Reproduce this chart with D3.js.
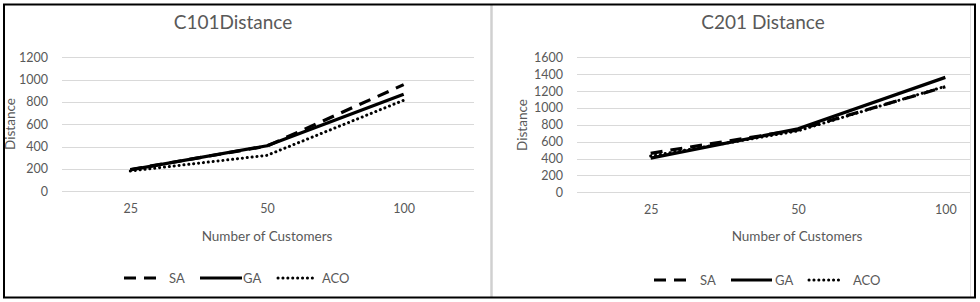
<!DOCTYPE html>
<html><head><meta charset="utf-8">
<script src="https://cdn.jsdelivr.net/npm/d3@7"></script>
<style>
html,body{margin:0;padding:0;background:#fff;}
svg{display:block;}
text{font-family:Lato,"Open Sans",sans-serif;fill:#595959;}
</style></head><body>
<svg id="c" width="980" height="302"></svg>
<script>
const categories = ["25", "50", "100"];
const seriesNames = ["SA", "GA", "ACO"];
const c101SA = [195, 405, 955];
const c101GA = [192, 408, 870];
const c101ACO = [182, 322, 815];
const c101Ticks = [0, 200, 400, 600, 800, 1000, 1200];
const c201SA = [462, 740, 1250];
const c201GA = [405, 752, 1362];
const c201ACO = [430, 728, 1256];
const c201Ticks = [0, 200, 400, 600, 800, 1000, 1200, 1400, 1600];

const svg = d3.select("#c");
const styles = {
  SA: {dash: "12,8", cap: "butt", w: 3.2},
  GA: {dash: null, cap: "butt", w: 3.2},
  ACO: {dash: "0.1,4.8", cap: "round", w: 3.0}
};

function drawPanel(cfg) {
  const clipId = "clip" + cfg.id;
  svg.append("clipPath").attr("id", clipId).append("rect")
    .attr("x", cfg.clip[0]).attr("y", 0).attr("width", cfg.clip[1] - cfg.clip[0]).attr("height", 302);
  const g = svg.append("g").attr("clip-path", `url(#${clipId})`);
  const x = d3.scalePoint().domain(categories).range(cfg.xr).padding(0.5);
  const y = d3.scaleLinear().domain([0, d3.max(cfg.ticks)]).range(cfg.yr);

  // gridlines
  g.append("g").selectAll("line").data(cfg.ticks).join("line")
    .attr("x1", cfg.gridX[0]).attr("x2", cfg.gridX[1])
    .attr("y1", d => Math.round(y(d)) + 0.5).attr("y2", d => Math.round(y(d)) + 0.5)
    .attr("stroke", "#d9d9d9").attr("stroke-width", 1);

  // y axis labels
  const ya = d3.axisLeft(y).tickValues(cfg.ticks).tickFormat(d3.format("d")).tickSize(0).tickPadding(0);
  const yg = g.append("g").attr("transform", `translate(${cfg.yLabelX},0)`).call(ya);
  yg.select(".domain").remove();
  yg.selectAll("text").style("font-family", "Lato").style("font-size", "12.5px").attr("fill", "#595959");

  // x axis labels
  const xa = d3.axisBottom(x).tickSize(0).tickPadding(0);
  const xg = g.append("g").attr("transform", `translate(0,${cfg.xLabelY})`).call(xa);
  xg.select(".domain").remove();
  xg.selectAll("text").style("font-family", "Lato").style("font-size", "12.5px").attr("fill", "#595959");

  // lines
  const line = d3.line().x((d, i) => x(categories[i])).y(d => y(d));
  cfg.series.forEach((vals, si) => {
    const st = styles[seriesNames[si]];
    g.append("path").datum(vals).attr("d", line)
      .attr("fill", "none").attr("stroke", "#000").attr("stroke-width", st.w)
      .attr("stroke-dasharray", st.dash).attr("stroke-linecap", st.cap).attr("stroke-linejoin", "round");
  });

  // titles
  g.append("text").attr("x", cfg.titleX).attr("y", 29).attr("text-anchor", "middle")
    .style("font-size", "19px").text(cfg.title);
  g.append("text").attr("x", cfg.xTitleX).attr("y", 241).attr("text-anchor", "middle")
    .style("font-size", "13.5px").text("Number of Customers");
  g.append("text").attr("transform", `translate(${cfg.yTitleX},${cfg.yTitleY}) rotate(-90)`)
    .attr("text-anchor", "middle").style("font-size", "13.5px").text("Distance");

  // legend
  const lg = g.append("g");
  cfg.legend.forEach((l, i) => {
    const st = styles[seriesNames[i]];
    lg.append("line").attr("x1", l[0]).attr("x2", l[1]).attr("y1", cfg.legY).attr("y2", cfg.legY)
      .attr("stroke", "#000").attr("stroke-width", st.w).attr("stroke-dasharray", st.dash)
      .attr("stroke-linecap", st.cap);
    lg.append("text").attr("x", l[2]).attr("y", cfg.legY + 4.5).style("font-size", "13px").text(seriesNames[i]);
  });
}

drawPanel({
  id: 1, clip: [3, 490], title: "C101Distance",
  xr: [62, 472], yr: [191.3, 57.3], ticks: c101Ticks, gridX: [62, 474],
  yLabelX: 48, xLabelY: 204, titleX: 233, xTitleX: 267, yTitleX: 15, yTitleY: 124,
  series: [c101SA, c101GA, c101ACO],
  legend: [[124, 163, 169], [200, 242, 243], [278, 316, 322]], legY: 278
});
drawPanel({
  id: 2, clip: [492, 971], title: "C201 Distance",
  xr: [577, 1019], yr: [192.3, 57.3], ticks: c201Ticks, gridX: [577, 971],
  yLabelX: 563, xLabelY: 205, titleX: 763, xTitleX: 797, yTitleX: 527, yTitleY: 125,
  series: [c201SA, c201GA, c201ACO],
  legend: [[654, 693, 700], [731, 772, 775], [809, 840, 853]], legY: 280
});

// frames
svg.append("line").attr("x1", 491.5).attr("x2", 491.5).attr("y1", 5).attr("y2", 297)
  .attr("stroke", "#d0d0d0").attr("stroke-width", 2.5);
svg.append("line").attr("x1", 970.5).attr("x2", 970.5).attr("y1", 5).attr("y2", 297)
  .attr("stroke", "#e0e0e0").attr("stroke-width", 1);
svg.append("rect").attr("x", 4).attr("y", 4.5).attr("width", 971).attr("height", 293)
  .attr("fill", "none").attr("stroke", "#000").attr("stroke-width", 2);
</script></body></html>
